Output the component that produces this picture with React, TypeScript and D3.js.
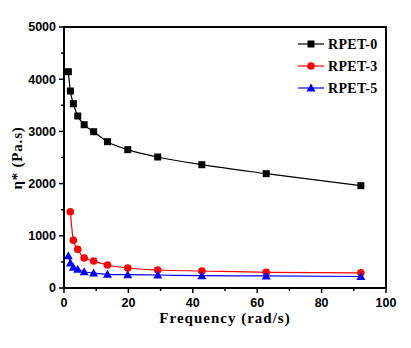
import React from "react";
import * as d3 from "d3";

const freq0 = [1.35, 1.98, 2.91, 4.27, 6.27, 9.2, 13.5, 19.8, 29.1, 42.8, 62.8, 92.2];
const rpet0 = [4144, 3774, 3531, 3295, 3128, 2994, 2803, 2650, 2510, 2362, 2190, 1960];
const freq3 = [1.98, 2.91, 4.27, 6.27, 9.2, 13.5, 19.8, 29.1, 42.8, 62.8, 92.2];
const rpet3 = [1462, 914, 741, 575, 517, 441, 383, 345, 326, 300, 290];
const freq5 = [1.35, 1.98, 2.91, 4.27, 6.27, 9.2, 13.5, 19.8, 29.1, 42.8, 62.8, 92.2];
const rpet5 = [619, 479, 397, 358, 312, 287, 262, 255, 249, 236, 232, 220];
const xTicks = [0, 20, 40, 60, 80, 100];
const yTicks = [0, 1000, 2000, 3000, 4000, 5000];
const seriesNames = ["RPET-0", "RPET-3", "RPET-5"];

const W = 411, H = 348;
const L = 64, R = 386, T = 27, B = 288;

export default function App() {
  const x = d3.scaleLinear().domain([0, 100]).range([L, R]);
  const y = d3.scaleLinear().domain([0, 5000]).range([B, T]);
  const line = d3.line<[number, number]>().x(d => x(d[0])).y(d => y(d[1])).curve(d3.curveMonotoneX);
  const series = [
    { name: seriesNames[0], xs: freq0, ys: rpet0, color: "#000000", shape: "square" },
    { name: seriesNames[1], xs: freq3, ys: rpet3, color: "#ff0000", shape: "circle" },
    { name: seriesNames[2], xs: freq5, ys: rpet5, color: "#0000ff", shape: "triangle" },
  ];
  const marker = (shape: string, cx: number, cy: number, color: string, key: any) => {
    if (shape === "square") return <rect key={key} x={cx - 3.5} y={cy - 3.5} width={7} height={7} fill={color} />;
    if (shape === "circle") return <circle key={key} cx={cx} cy={cy} r={3.8} fill={color} />;
    return <path key={key} d={`M${cx},${cy - 4.5}L${cx + 4.5},${cy + 3.5}L${cx - 4.5},${cy + 3.5}Z`} fill={color} />;
  };
  const xMinor = d3.range(10, 100, 20);
  const yMinor = d3.range(500, 5000, 1000);
  return (
    <svg width={W} height={H} style={{ position: "absolute", left: 0, top: 0, background: "#fff" }}>
      <rect x={0} y={0} width={W} height={H} fill="#fff" />
      {series.map((s, i) => (
        <g key={i}>
          <path d={line(s.xs.map((v, j) => [v, s.ys[j]] as [number, number])) || ""} fill="none" stroke={s.color} strokeWidth={1.2} />
          {s.xs.map((v, j) => marker(s.shape, x(v), y(s.ys[j]), s.color, j))}
        </g>
      ))}
      <rect x={L} y={T} width={R - L} height={B - T} fill="none" stroke="#000" strokeWidth={2} />
      {yTicks.map(t => (
        <g key={"y" + t}>
          <line x1={L - 5} x2={L} y1={y(t)} y2={y(t)} stroke="#000" strokeWidth={1.5} />
          <text x={L - 8} y={y(t)} dy="0.35em" textAnchor="end" fontFamily="Liberation Sans, Arial, sans-serif" fontWeight="bold" fontSize={12.5} fill="#000">{t}</text>
        </g>
      ))}
      {yMinor.map(t => <line key={"ym" + t} x1={L - 3} x2={L} y1={y(t)} y2={y(t)} stroke="#000" strokeWidth={1.5} />)}
      {xTicks.map(t => (
        <g key={"x" + t}>
          <line x1={x(t)} x2={x(t)} y1={B} y2={B + 5} stroke="#000" strokeWidth={1.5} />
          <text x={x(t)} y={B + 15} dy="0.35em" textAnchor="middle" fontFamily="Liberation Sans, Arial, sans-serif" fontWeight="bold" fontSize={12.5} fill="#000">{t}</text>
        </g>
      ))}
      {xMinor.map(t => <line key={"xm" + t} x1={x(t)} x2={x(t)} y1={B} y2={B + 3} stroke="#000" strokeWidth={1.5} />)}
      <text x={(L + R) / 2} y={318} dy="0.35em" textAnchor="middle" fontFamily="Liberation Serif, Times New Roman, serif" fontWeight="bold" fontSize={15} letterSpacing={1} fill="#000">Frequency (rad/s)</text>
      <text transform={`translate(17,158) rotate(-90)`} dy="0.35em" textAnchor="middle" fontFamily="Liberation Serif, Times New Roman, serif" fontWeight="bold" fontSize={15} letterSpacing={0.8} fill="#000">η* (Pa.s)</text>
      {series.map((s, i) => {
        const ly = 44 + i * 22;
        return (
          <g key={"lg" + i}>
            <line x1={298} x2={324} y1={ly} y2={ly} stroke={s.color} strokeWidth={1.2} />
            {marker(s.shape, 311, ly, s.color, "m")}
            <text x={328} y={ly} dy="0.35em" fontFamily="Liberation Serif, Times New Roman, serif" fontWeight="bold" fontSize={14} letterSpacing={0.3} fill="#000">{s.name}</text>
          </g>
        );
      })}
    </svg>
  );
}
